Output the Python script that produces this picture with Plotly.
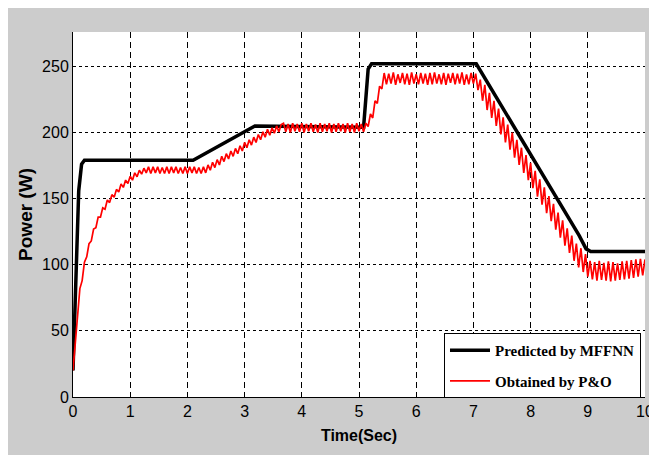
import plotly.graph_objects as go

# ---------------- data ----------------
T_STEP = 0.04  # sampling step of the P&O trace, seconds

# P&O measured power (W), one value every T_STEP seconds from t = 0 to t = 10
red_rise = [20, 43, 60, 82, 88, 102, 106, 116, 118, 127, 128, 136, 136, 143, 142, 149, 147,
            153, 151, 157, 155, 161, 158.5, 164, 161.5, 167, 164, 169.5, 166.5, 171.5, 168.5, 173, 169.5]
red_flat1 = [174, 169, 174, 169.5, 174, 169, 173.5, 169, 174, 169, 174, 169.5, 174, 169, 173.5,
             169, 174, 169, 174, 169.5, 174, 169, 173.5, 169, 174, 169.5]
red_ramp1 = [175.5, 171.5, 177.5, 173.5, 179.5, 175.5, 182, 178, 184, 180, 186, 182, 188, 184, 190,
             186, 192.5, 188.5, 194.5, 190.5, 196.5, 192.5, 198.5, 194.5, 200.5, 196.5, 202.5, 198,
             203.5, 199.5, 205, 200.5, 206]
red_flat2 = [207, 200.5, 206.5, 200, 207, 201, 206.5, 200.5, 207, 200,
             206.5, 201, 207, 200.5, 206, 200, 207, 200.5, 206.5, 201,
             207, 200, 206.5, 200.5, 207, 201, 206.5, 200, 207, 200.5,
             206.5, 200, 207, 201, 206.5, 200.5, 207]
red_ramp2 = [204.5, 214, 211, 224, 222, 235, 233]
red_flat3 = [245, 236.5, 244.5, 237, 245.5, 236, 244, 237.5, 245, 236.5,
             244.5, 236, 245.5, 237, 244, 236.5, 245, 237, 244.5, 236,
             245, 236.5, 245.5, 237, 244, 236.5, 245, 236, 244.5, 237.5,
             245, 236.5, 244.5, 237, 245.5, 236, 244, 236.5, 245, 237, 244.5]
red_fall = [232, 240, 224, 236, 217, 230, 211, 224, 205, 218,
            198.5, 211.5, 192.5, 206, 187, 200, 181, 194.5, 175.5, 188.5,
            169.5, 183, 164, 177, 158, 171, 151.5, 164.5, 145.5, 158.5,
            139, 152, 133, 146, 126.5, 139.5, 120.5, 133.5, 114.5, 127.5,
            109, 122, 103, 116, 98, 112.5, 94.5, 108, 91]
red_flat4 = [103, 89, 102, 88, 103, 88.5, 101.5, 88, 102.5, 87.5, 102, 88, 101, 88.5, 102.5,
             89, 103, 89.5, 103.5, 90, 104, 91, 104.5, 92, 104]

red_power = red_rise + red_flat1 + red_ramp1 + red_flat2 + red_ramp2 + red_flat3 + red_fall + red_flat4
red_time = [round(i * T_STEP, 2) for i in range(len(red_power))]

# MFFNN predicted power (W): vertices of the piecewise curve
black_time = [0, 0.05, 0.10, 0.15, 0.20, 2.10, 3.18, 5.08, 5.12, 5.16, 5.22, 7.05, 8.85, 8.97, 9.05, 10.0]
black_power = [20, 94, 156, 176, 179, 179, 205, 204, 230, 248, 252, 252, 122, 112, 110, 110]

series_names = ["Predicted by MFFNN", "Obtained by P&O"]
x_ticks = list(range(0, 11))
y_ticks = [0, 50, 100, 150, 200, 250]

# ---------------- figure ----------------
GRAY = "#cccccc"
SANS = "Liberation Sans, Arial, sans-serif"

fig = go.Figure()
fig.add_trace(go.Scatter(x=black_time, y=black_power, mode="lines", name=series_names[0],
                         legendgroup="a", line=dict(color="black", width=3.5)))
fig.add_trace(go.Scatter(x=red_time, y=red_power, mode="lines", name=series_names[1],
                         legendgroup="b", line=dict(color="#ff0000", width=1.7)))

# the page body adds an 8 px white margin on the top and left, like the reference's white border
fig.update_layout(
    width=649, height=447,
    margin=dict(l=65, r=12, t=24, b=58),
    paper_bgcolor=GRAY, plot_bgcolor="white",
    showlegend=True,
    legend=dict(x=0.993, y=-0.003, xanchor="right", yanchor="bottom",
                bgcolor="white", bordercolor="black", borderwidth=1,
                font=dict(family="Liberation Serif, Times New Roman, serif", size=15,
                          color="black", weight="bold"),
                tracegroupgap=8, itemwidth=40),
)

fig.update_xaxes(range=[0, 10], tickvals=x_ticks, ticktext=[str(v) for v in x_ticks],
                 automargin=False,
                 showline=True, linecolor="black", linewidth=1, mirror=False,
                 showgrid=True, gridcolor="black", gridwidth=1, griddash="6px,4px",
                 zeroline=False, ticks="",
                 tickfont=dict(family=SANS, size=16, color="black"),
                 title=dict(text="Time(Sec)", standoff=10,
                            font=dict(family=SANS, size=16, color="black", weight="bold")))
fig.update_yaxes(range=[0, 276], tickvals=y_ticks, ticktext=[str(v) for v in y_ticks],
                 automargin=False,
                 showline=True, linecolor="black", linewidth=1, mirror=False,
                 showgrid=True, gridcolor="black", gridwidth=1, griddash="3px,3px",
                 zeroline=False, ticks="",
                 tickfont=dict(family=SANS, size=16, color="black"),
                 title=dict(text="Power (W)", standoff=4,
                            font=dict(family=SANS, size=19, color="black", weight="bold")))

fig.write_html("out.html")
